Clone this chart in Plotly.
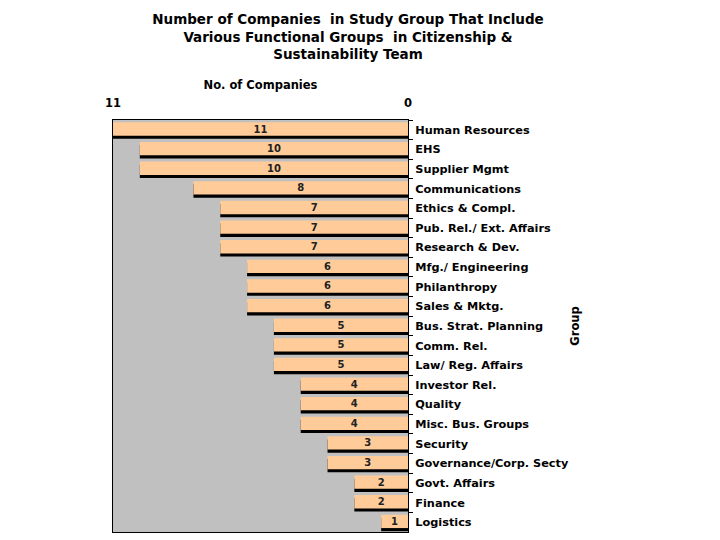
import plotly.graph_objects as go

categories = ["Human Resources", "EHS", "Supplier Mgmt", "Communications",
              "Ethics & Compl.", "Pub. Rel./ Ext. Affairs", "Research & Dev.",
              "Mfg./ Engineering", "Philanthropy", "Sales & Mktg.",
              "Bus. Strat. Planning", "Comm. Rel.", "Law/ Reg. Affairs",
              "Investor Rel.", "Quality", "Misc. Bus. Groups", "Security",
              "Governance/Corp. Secty", "Govt. Affairs", "Finance", "Logistics"]
counts = [11, 10, 10, 8, 7, 7, 7, 6, 6, 6, 5, 5, 5, 4, 4, 4, 3, 3, 2, 2, 1]
x_ticks = [11, 0]

FONT = "DejaVu Sans, Verdana, sans-serif"

fig = go.Figure()
# shadow
fig.add_trace(go.Bar(
    y=categories, x=counts, orientation="h",
    marker=dict(color="#000000", line=dict(width=0)),
    width=0.68, offset=-0.22, hoverinfo="skip", showlegend=False,
))
# main bars
fig.add_trace(go.Bar(
    y=categories, x=counts, orientation="h",
    marker=dict(color="#FFCC99", line=dict(width=0)),
    width=0.68, offset=-0.38,
    text=[str(v) for v in counts], textposition="inside",
    insidetextanchor="middle", textangle=0, constraintext="none",
    textfont=dict(family=FONT, size=10, color="#222222", weight="bold"),
    showlegend=False,
))

fig.update_layout(
    width=720, height=540,
    barmode="overlay",
    paper_bgcolor="white", plot_bgcolor="#C0C0C0",
    margin=dict(l=105, r=320, t=112, b=16),
    font=dict(family=FONT, color="black"),
    title=dict(
        text="<b>Number of Companies  in Study Group That Include<br>Various Functional Groups  in Citizenship &<br>Sustainability Team</b>",
        x=340 / 720, xanchor="center", y=1 - 16 / 540, yanchor="top",
        font=dict(family=FONT, size=13.5, color="black"),
    ),
    xaxis=dict(
        side="top", range=[11, 0], tickvals=x_ticks,
        ticktext=["<b>%d</b>" % v for v in x_ticks],
        tickfont=dict(size=11.5), showgrid=False, zeroline=False,
        showline=True, linecolor="black", linewidth=1, mirror=True,
        ticks="", ticklabelstandoff=7,
        title=dict(text="<b>No. of Companies</b>", font=dict(size=11.5), standoff=4),
    ),
    yaxis=dict(
        side="right", autorange="reversed", showgrid=False,
        showline=True, linecolor="black", linewidth=1, mirror=True,
        ticks="outside", ticklen=4, tickson="boundaries", tickcolor="black",
        ticklabelstandoff=4,
        tickfont=dict(size=11.3, weight="bold"),
        title=dict(text="<b>Group</b>", font=dict(size=11.5), standoff=3),
    ),
)

fig.write_html("out.html")
